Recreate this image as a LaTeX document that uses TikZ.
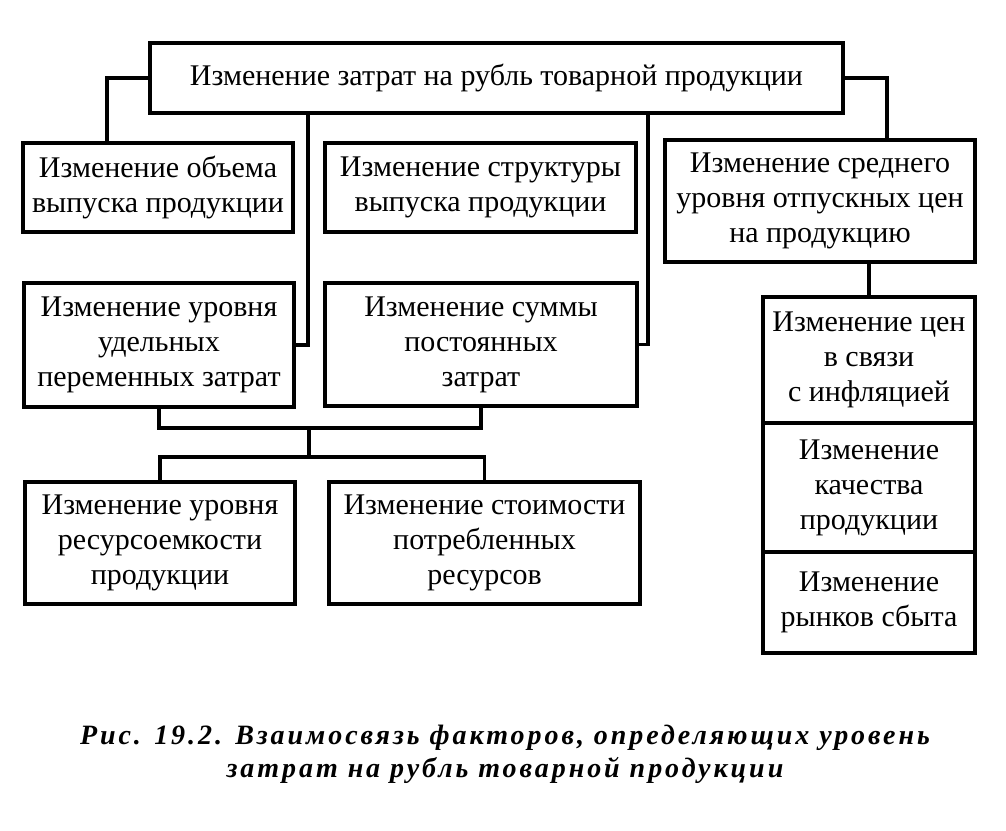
\documentclass[tikz,border=0pt]{standalone}
\usepackage{fontspec}
\setmainfont{Liberation Serif}
\begin{document}
\begin{tikzpicture}[x=1pt,y=-1pt,
  box/.style={draw, line width=3.2pt, align=center, inner sep=0pt,
    font=\fontsize{30}{35}\selectfont},
  conn/.style={line width=3.2pt},
  caption/.style={align=center, font=\fontsize{28}{33}\selectfont\bfseries\itshape\addfontfeatures{LetterSpace=10.5}}]
\useasboundingbox (0,0) rectangle (1006,830);
\node[box, minimum width=693pt, minimum height=70pt] (top) at (496.5,78) {Изменение затрат на рубль товарной продукции};
\node[box, minimum width=270pt, minimum height=89pt] (A) at (158,187.5) {Изменение объема\\выпуска продукции};
\node[box, minimum width=311pt, minimum height=89pt] (B) at (480.5,187.5) {Изменение структуры\\выпуска продукции};
\node[box, minimum width=310pt, minimum height=122pt] (C) at (820,201) {Изменение среднего\\уровня отпускных цен\\на продукцию};
\node[box, minimum width=270pt, minimum height=124pt] (D) at (159,345) {Изменение уровня\\удельных\\переменных затрат};
\node[box, minimum width=312pt, minimum height=123pt] (E) at (481,344.5) {Изменение суммы\\постоянных\\затрат};
\node[box, minimum width=212pt, minimum height=126pt] (F) at (869,360) {Изменение цен\\в связи\\с инфляцией};
\node[box, minimum width=212pt, minimum height=129pt] (G) at (869,487.5) {Изменение\\качества\\продукции};
\node[box, minimum width=212pt, minimum height=101pt] (H) at (869,602.5) {Изменение\\рынков сбыта};
\node[box, minimum width=270pt, minimum height=122pt] (I) at (160,543) {Изменение уровня\\ресурсоемкости\\продукции};
\node[box, minimum width=311pt, minimum height=122pt] (J) at (484.5,543) {Изменение стоимости\\потребленных\\ресурсов};
\coordinate (j1) at (309,428);
\coordinate (j2) at (309,457);
\draw[conn] (top.west) -| ([xshift=-51pt]A.north);
\draw[conn] (top.east) -| ([xshift=67pt]C.north);
\draw[conn] (top.south -| 308,0) |- (D.east);
\draw[conn] (top.south -| 648,0) |- (E.east);
\draw[conn] (C.south -| F.north) -- (F.north);
\draw[conn] (D.south) -- (D.south |- j1) -- (E.south |- j1) -- (E.south);
\draw[conn] (j1) -- (j2);
\draw[conn] (I.north) -- (I.north |- j2) -- (J.north |- j2) -- (J.north);
\node[caption] (cap) at (505,754) {Рис. 19.2. Взаимосвязь факторов, определяющих уровень\\затрат на рубль товарной продукции};
\end{tikzpicture}
\end{document}
